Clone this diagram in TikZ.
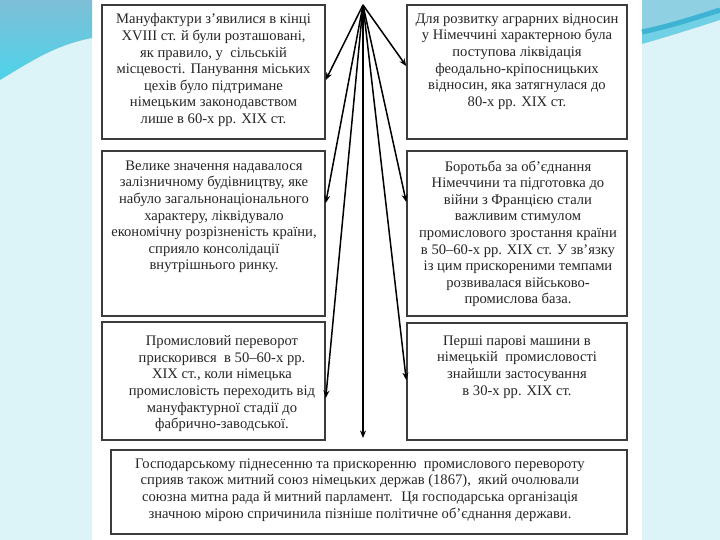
\documentclass[tikz,border=0pt]{standalone}
\usepackage{fontspec}
\setmainfont{Liberation Serif}
\usetikzlibrary{arrows.meta}
\definecolor{bgcyan}{HTML}{DCF3F7}
\definecolor{swtop}{HTML}{7DBFD6}
\definecolor{swbot}{HTML}{4DD3EA}
\definecolor{swlight}{HTML}{8FD0E3}
\definecolor{swdark}{HTML}{3FB3D4}
\definecolor{swmid}{HTML}{6FD0E6}
\definecolor{boxline}{HTML}{3C3C3C}
\definecolor{txt}{HTML}{262626}
\tikzset{
  infobox/.style={draw=boxline, line width=1.5pt, fill=white, inner sep=0pt},
  infotext/.style={anchor=north, align=center, inner sep=0pt, text=txt,
    font=\fontsize{14.6}{16.6}\selectfont},
  conn/.style={draw=black, line width=1.5pt, -{Stealth[length=7.5pt,width=6pt]}}
}
\begin{document}
\begin{tikzpicture}[x=1pt,y=-1pt]
\useasboundingbox (0,0) rectangle (720,540);
% background
\fill[bgcyan] (0,0) rectangle (720,540);
\fill[white] (92,0) rectangle (642,540);
\shade[top color=swtop, bottom color=swbot] (0,0) -- (92,0) -- (92,38)
  .. controls (55,45) and (30,62) .. (0,80) -- cycle;
\fill[swlight] (642,0) -- (720,0) -- (720,8) .. controls (695,18) and (670,24) .. (642,30) -- cycle;
\fill[swmid] (642,30) .. controls (670,24) and (695,18) .. (720,8) -- (720,20)
  .. controls (695,28) and (670,36) .. (642,44) -- cycle;
\draw[swdark, line width=5pt] (642,32) .. controls (670,26) and (695,18) .. (720,10);

% boxes
\node[infobox, minimum width=223pt, minimum height=134pt] (tl) at (213.5,72) {};
\node[infobox, minimum width=220pt, minimum height=134pt] (tr) at (517,72) {};
\node[infobox, minimum width=223pt, minimum height=165pt] (ml) at (213.5,233.5) {};
\node[infobox, minimum width=220pt, minimum height=165pt] (mr) at (517,233.5) {};
\node[infobox, minimum width=223pt, minimum height=118pt] (bl) at (213.5,381) {};
\node[infobox, minimum width=220pt, minimum height=117pt] (br) at (517,381.5) {};
\node[infobox, minimum width=516pt, minimum height=84pt] (bw) at (369,492) {};

% texts
\node[infotext] (tltext) at (213.5,13.5) {Мануфактури з’явилися в кінці\\XVIII ст. й були розташовані,\\як правило, у \ сільській\\місцевості. Панування міських\\цехів було підтримане\\німецьким законодавством\\лише в 60-х рр. XIX ст.};
\node[infotext] (trtext) at (517,13.5) {Для розвитку аграрних відносин\\у Німеччині характерною була\\поступова ліквідація\\феодально-кріпосницьких\\відносин, яка затягнулася до\\80-х рр. XIX ст.};
\node[infotext] (mltext) at (214,160.5) {Велике значення надавалося\\залізничному будівництву, яке\\набуло загальнонаціонального\\характеру, ліквідувало\\економічну розрізненість країни,\\сприяло консолідації\\внутрішнього ринку.};
\node[infotext] (mrtext) at (518,160.5) {Боротьба за об’єднання\\Німеччини та підготовка до\\війни з Францією стали\\важливим стимулом\\промислового зростання країни\\в 50–60-х рр. XIX ст. У зв’язку\\із цим прискореними темпами\\розвивалася військово-\\промислова база.};
\node[infotext] (bltext) at (222,335.5) {Промисловий переворот\\прискорився \ в 50–60-х рр.\\XIX ст., коли німецька\\промисловість переходить від\\мануфактурної стадії до\\фабрично-заводської.};
\node[infotext] (brtext) at (517,335.5) {Перші парові машини в\\німецькій \ промисловості\\знайшли застосування\\в 30-х рр. XIX ст.};
\node[infotext] (bwtext) at (360,458.5) {Господарському піднесенню та прискоренню \ промислового перевороту\\сприяв також митний союз німецьких держав (1867), \ який очолювали\\союзна митна рада й митний парламент. \ Ця господарська організація\\значною мірою спричинила пізніше політичне об’єднання держави.};

% connectors
\coordinate (apex) at (363,5);
\coordinate (downend) at (363,438);
\draw[conn] (apex) -- ([yshift=-8pt]tl.east);
\draw[conn] (apex) -- ([yshift=6pt]tr.west);
\draw[conn] (apex) -- ([yshift=30.5pt]ml.east);
\draw[conn] (apex) -- ([yshift=31.5pt]mr.west);
\draw[conn] (apex) -- ([yshift=-17pt]bl.east);
\draw[conn] (apex) -- ([yshift=1.5pt]br.west);
\draw[conn] (apex) -- (downend);
\end{tikzpicture}
\end{document}
